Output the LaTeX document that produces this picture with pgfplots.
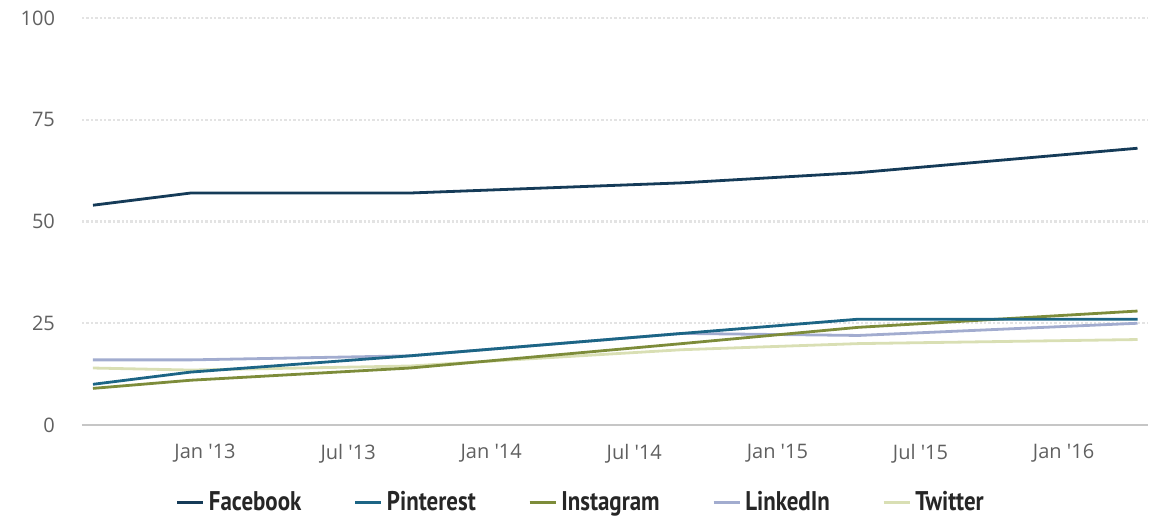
\documentclass[border=0pt]{standalone}
\usepackage{fontspec}
\setmainfont{Open Sans}
\newfontfamily\legfont[FakeStretch=0.85]{PT Sans}
\usepackage{pgfplots}
\pgfplotsset{compat=1.18}

\definecolor{cfb}{HTML}{153B58}
\definecolor{cpin}{HTML}{1C6585}
\definecolor{cins}{HTML}{7D8C3A}
\definecolor{clin}{HTML}{A2ACCF}
\definecolor{ctw}{HTML}{D9DFB4}
\definecolor{tickgray}{HTML}{606060}
\newcommand{\q}{\textquotesingle}

\begin{document}
\begin{tikzpicture}
\useasboundingbox (-41pt,-50pt) rectangle (540.5pt,212.5pt);
\begin{axis}[
    scale only axis,
    width=533pt, height=203.5pt,
    xmin=-5.16, xmax=39.54,
    ymin=0, ymax=100,
    axis x line*=bottom,
    axis y line*=left,
    y axis line style={draw=none},
    x axis line style={draw=gray!45, line width=0.8pt, -},
    xtick={0,6,12,18,24,30,36},
    xticklabels={Jan \q13,Jul \q13,Jan \q14,Jul \q14,Jan \q15,Jul \q15,Jan \q16},
    ytick={0,25,50,75,100},
    major tick length=0pt,
    ymajorgrids,
    grid style={gray!22, line width=1.2pt, densely dotted},
    tick label style={font=\fontsize{10}{12}\selectfont, text=tickgray},
    /pgf/number format/assume math mode=true,
    xticklabel style={yshift=-6pt},
    yticklabel style={anchor=east, xshift=-10pt},
    every axis plot/.append style={line width=1.4pt, line join=round},
]
\addplot[ctw] coordinates {(-4.7,14) (-0.6,13.5) (8.6,14.5) (20,18.5) (27.4,20) (39.1,21)};
\addplot[clin] coordinates {(-4.7,16) (-0.6,16) (8.6,17) (20,22.5) (27.4,22) (39.1,25)};
\addplot[cins] coordinates {(-4.7,9) (-0.6,11) (8.6,14) (20,20) (27.4,24) (39.1,28)};
\addplot[cpin] coordinates {(-4.7,10) (-0.6,13) (8.6,17) (20,22.5) (27.4,26) (39.1,26)};
\addplot[cfb] coordinates {(-4.7,54) (-0.6,57) (8.6,57) (20,59.5) (27.4,62) (39.1,68)};
\end{axis}
\begin{axis}[
    scale only axis,
    width=533pt, height=203.5pt,
    xmin=-5.16, xmax=39.54, ymin=0, ymax=100,
    hide axis,
    legend columns=5,
    legend style={draw=none, at={(axis description cs:0.4686,-0.19)}, anchor=center,
        font=\legfont\bfseries\fontsize{13.5}{15}\selectfont, text=black!85,
        /tikz/every even column/.append style={column sep=24pt}},
    legend image code/.code={\draw[#1, line width=1.8pt] (0pt,0pt) -- (13pt,0pt);},
]
\addlegendimage{cfb}
\addlegendentry{Facebook}
\addlegendimage{cpin}
\addlegendentry{Pinterest}
\addlegendimage{cins}
\addlegendentry{Instagram}
\addlegendimage{clin}
\addlegendentry{LinkedIn}
\addlegendimage{ctw}
\addlegendentry{Twitter}
\end{axis}
\end{tikzpicture}
\end{document}
